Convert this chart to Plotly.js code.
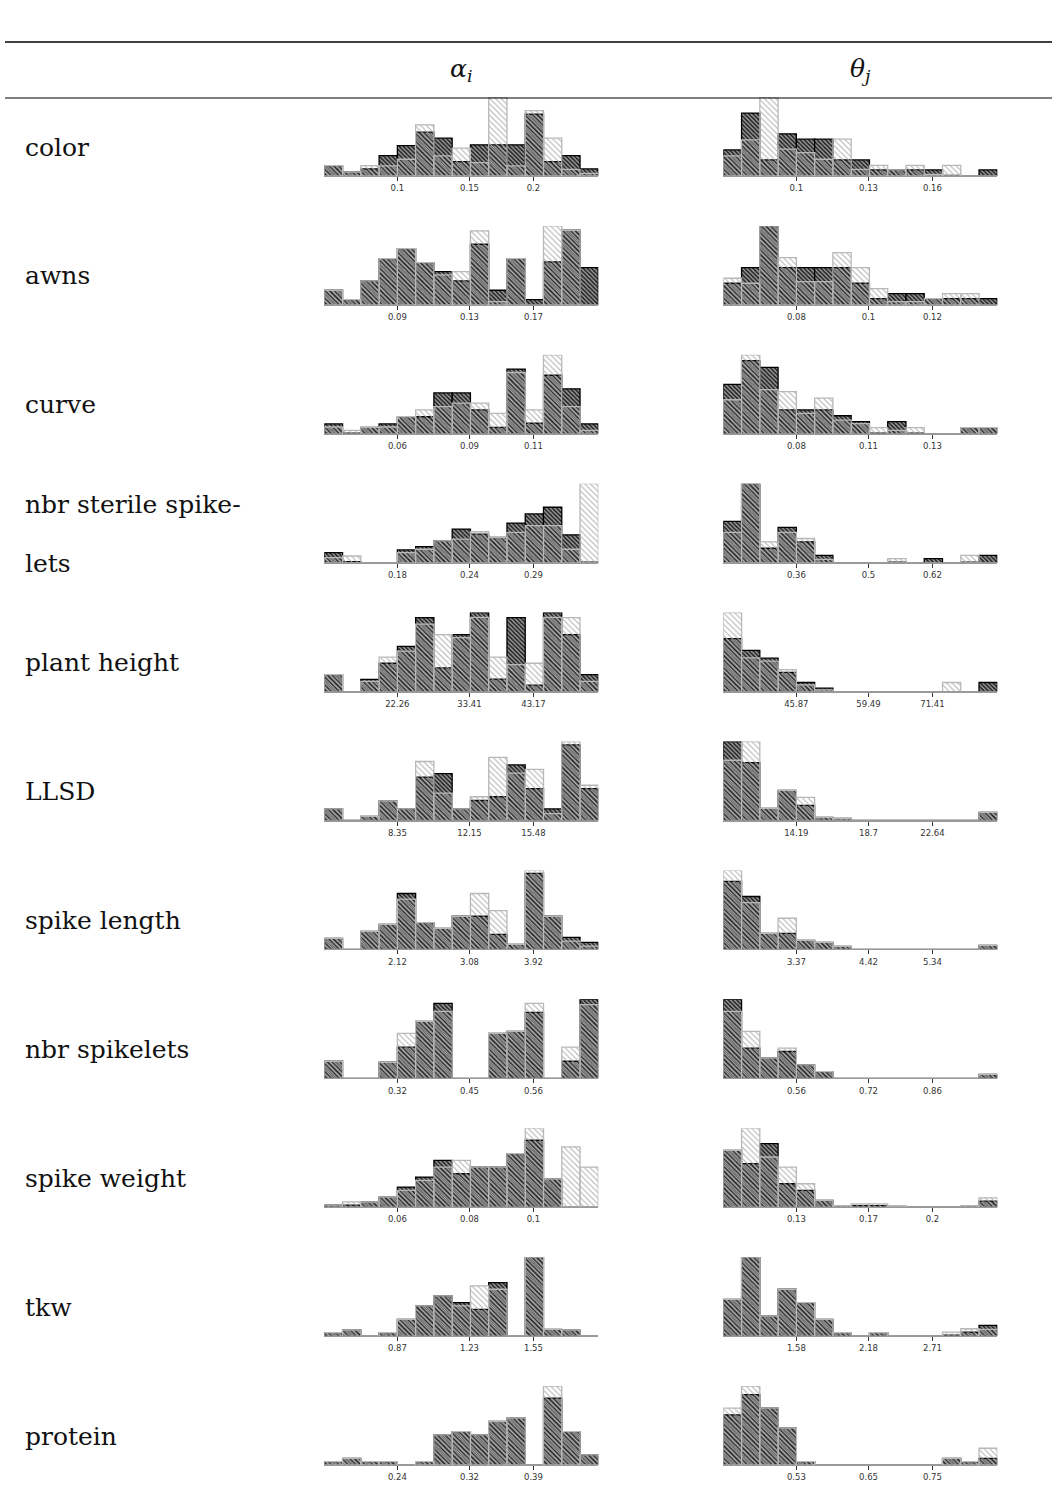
<!DOCTYPE html>
<html>
<head>
<meta charset="utf-8">
<script src="https://cdn.plot.ly/plotly-3.0.1.min.js"></script>
<style>html,body{margin:0;padding:0;background:#fff;}#chart{width:1057px;height:1493px;}</style>
</head>
<body>
<div id="chart"></div>
<script>
// ---------- DATA ----------
const rowLabels = ["color","awns","curve","nbr sterile spike-|lets","plant height","LLSD","spike length","nbr spikelets","spike weight","tkw","protein"];
const headerLabels = ["<i>α</i><sub><i>i</i></sub>", "<i>θ</i><sub><i>j</i></sub>"];

// tick labels (alpha column, theta column)
const color_alpha_ticks  = ["0.1","0.15","0.2"];
const color_theta_ticks  = ["0.1","0.13","0.16"];
const awns_alpha_ticks   = ["0.09","0.13","0.17"];
const awns_theta_ticks   = ["0.08","0.1","0.12"];
const curve_alpha_ticks  = ["0.06","0.09","0.11"];
const curve_theta_ticks  = ["0.08","0.11","0.13"];
const sterile_alpha_ticks= ["0.18","0.24","0.29"];
const sterile_theta_ticks= ["0.36","0.5","0.62"];
const height_alpha_ticks = ["22.26","33.41","43.17"];
const height_theta_ticks = ["45.87","59.49","71.41"];
const llsd_alpha_ticks   = ["8.35","12.15","15.48"];
const llsd_theta_ticks   = ["14.19","18.7","22.64"];
const length_alpha_ticks = ["2.12","3.08","3.92"];
const length_theta_ticks = ["3.37","4.42","5.34"];
const spklt_alpha_ticks  = ["0.32","0.45","0.56"];
const spklt_theta_ticks  = ["0.56","0.72","0.86"];
const weight_alpha_ticks = ["0.06","0.08","0.1"];
const weight_theta_ticks = ["0.13","0.17","0.2"];
const tkw_alpha_ticks    = ["0.87","1.23","1.55"];
const tkw_theta_ticks    = ["1.58","2.18","2.71"];
const protein_alpha_ticks= ["0.24","0.32","0.39"];
const protein_theta_ticks= ["0.53","0.65","0.75"];

// histogram heights, 15 bins each (dark series, light series)
const color_alpha_dark   = [3.1,1.2,2.1,6.1,9.1,13.1,11.3,4.3,9.3,9.3,9.3,18.5,4.3,6.1,2.1];
const color_alpha_light  = [3.1,1.2,3.1,3.0,5.0,15.3,6.0,8.3,4.0,23.6,3.0,19.5,11.3,2.0,0.8];
const color_theta_dark   = [7.8,18.8,4.8,12.6,11.0,11.0,4.8,4.8,1.8,1.8,1.8,1.8,0.2,0,1.8];
const color_theta_light  = [6.0,10.8,23.6,8.0,7.0,5.0,11.0,2.0,3.2,1.8,3.2,0.5,3.2,0,0];
const awns_alpha_dark    = [4.4,1.6,7.2,13.9,16.9,12.7,10.0,7.2,18.2,4.4,13.9,1.6,12.9,22.4,11.2];
const awns_alpha_light   = [4.4,1.6,7.2,13.9,16.9,12.7,9.0,10.0,22.2,1.0,13.9,0,23.7,22.4,0];
const awns_theta_dark    = [6.5,11.2,23.7,11.2,11.2,11.2,11.2,6.5,1.9,3.4,3.4,1.9,1.9,1.9,1.9];
const awns_theta_light   = [8.0,6.5,23.7,14.2,7.0,7.0,15.7,11.2,4.9,1.0,1.0,1.9,3.4,3.4,0];
const curve_alpha_dark   = [2.9,0.2,1.9,2.9,5.0,5.0,12.0,12.0,7.0,1.9,19.0,3.1,17.2,13.2,2.9];
const curve_alpha_light  = [2.0,1.0,1.9,2.0,5.0,7.0,8.0,9.0,9.0,6.0,18.0,7.0,23.2,8.0,1.0];
const curve_theta_dark   = [14.5,21.5,19.5,7.0,7.0,7.0,5.3,3.6,0.2,3.6,0.2,0,0,1.8,1.8];
const curve_theta_light  = [10.0,23.2,13.0,12.4,6.0,10.5,4.0,3.0,1.8,1.0,1.8,0,0,1.8,1.8];
const sterile_alpha_dark = [3.0,0.3,0,0,3.8,4.8,6.5,10.0,8.5,7.5,11.8,14.5,16.5,8.3,0.2];
const sterile_alpha_light= [1.5,2.0,0,0,3.0,4.0,6.5,7.0,9.2,7.5,9.0,11.0,11.0,4.0,23.5];
const sterile_theta_dark = [12.3,23.5,4.3,10.5,6.2,2.2,0,0,0,0.2,0,1.2,0,0.2,2.2];
const sterile_theta_light= [9.0,23.5,6.2,9.0,7.2,1.0,0,0,0,1.2,0,0,0,2.2,0];
const height_alpha_dark  = [5.0,0,3.6,8.4,13.4,21.9,7.0,16.9,23.4,3.7,21.9,1.9,23.4,16.9,5.0];
const height_alpha_light = [5.0,0,3.0,10.2,12.0,20.0,16.9,16.0,22.0,10.2,8.0,8.4,22.0,21.9,3.0];
const height_theta_dark  = [15.7,12.2,9.9,5.7,2.7,1.0,0,0,0,0,0,0,0,0,2.7];
const height_theta_light = [23.4,10.0,9.0,6.5,2.0,0.5,0,0,0,0,0,0,2.7,0,0];
const llsd_alpha_dark    = [3.4,0,1.2,5.7,3.4,12.8,13.8,3.4,5.9,7.0,16.4,9.4,3.4,22.3,9.4];
const llsd_alpha_light   = [3.4,0,1.2,5.7,3.4,17.4,8.1,3.4,7.0,18.6,14.0,15.1,2.0,23.3,10.4];
const llsd_theta_dark    = [23.6,17.3,3.6,9.0,4.5,0.9,0.6,0,0,0,0,0,0,0,2.4];
const llsd_theta_light   = [18.0,23.6,3.6,9.0,6.9,0.9,0.6,0,0,0,0,0,0,0,2.4];
const length_alpha_dark  = [3.3,0,5.4,7.5,16.7,8.0,6.3,9.9,9.9,4.5,1.5,22.7,9.9,3.6,2.1];
const length_alpha_light = [3.3,0,5.4,7.5,15.0,8.0,6.3,9.9,16.7,11.6,1.5,23.6,9.9,2.5,1.0];
const length_theta_dark  = [20.3,15.8,4.8,4.8,2.7,2.1,0.9,0,0,0,0,0,0,0,1.2];
const length_theta_light = [23.6,14.0,4.8,9.3,2.7,2.1,0.9,0,0,0,0,0,0,0,1.2];
const spklt_alpha_dark   = [5.1,0,0,4.8,9.3,17.0,22.4,0,0,13.4,14.0,19.7,0,5.1,23.6];
const spklt_alpha_light  = [5.1,0,0,4.8,13.4,17.0,20.0,0,0,13.4,14.0,22.4,0,9.3,22.0];
const spklt_theta_dark   = [23.6,9.0,6.0,8.0,4.0,2.0,0,0,0,0,0,0,0,0,1.2];
const spklt_theta_light  = [20.0,14.0,6.0,9.0,4.0,2.0,0,0,0,0,0,0,0,0,1.2];
const weight_alpha_dark  = [0.6,0.6,1.5,3.0,6.0,9.0,14.0,10.0,12.0,12.0,16.0,20.0,8.4,0,0];
const weight_alpha_light = [0.6,1.6,1.5,3.0,5.0,8.0,12.0,14.0,12.0,12.0,16.0,23.6,8.4,18.0,12.0];
const weight_theta_dark  = [17.0,13.0,19.0,7.0,5.0,2.0,0.5,0.5,0.5,0,0,0,0,0.5,1.8];
const weight_theta_light = [17.0,23.6,15.0,12.0,7.0,2.0,0.5,1.0,1.0,0.5,0,0,0,0.5,2.8];
const tkw_alpha_dark     = [1.0,1.8,0,1.0,5.0,9.0,12.0,10.0,8.0,16.0,0,23.6,2.0,1.8,0];
const tkw_alpha_light    = [1.0,1.8,0,1.0,5.0,9.0,12.0,9.0,15.0,14.0,0,23.6,2.0,1.8,0];
const tkw_theta_dark     = [11.0,23.6,6.0,14.0,10.0,5.0,1.0,0,1.0,0,0,0,0.3,1.2,3.2];
const tkw_theta_light    = [11.0,23.6,6.0,14.0,10.0,5.0,1.0,0,1.0,0,0,0,1.2,2.2,2.0];
const protein_alpha_dark = [1.0,2.0,1.0,1.0,0,1.0,9.0,10.0,9.0,13.0,14.0,0,20.0,10.0,3.0];
const protein_alpha_light= [1.0,2.0,1.0,1.0,0,1.0,9.0,10.0,9.0,13.0,14.0,0,23.6,10.0,3.0];
const protein_theta_dark = [15.0,21.0,17.0,11.0,1.0,0,0,0,0,0,0,0,2.0,1.0,2.0];
const protein_theta_light= [17.0,23.6,17.0,11.0,1.0,0,0,0,0,0,0,0,2.0,1.0,5.0];

const binCenters = [0.5,1.5,2.5,3.5,4.5,5.5,6.5,7.5,8.5,9.5,10.5,11.5,12.5,13.5,14.5];
const tickPositions = [4.0, 7.95, 11.45];

const hists = [
  [color_alpha_dark, color_alpha_light, color_alpha_ticks, color_theta_dark, color_theta_light, color_theta_ticks],
  [awns_alpha_dark, awns_alpha_light, awns_alpha_ticks, awns_theta_dark, awns_theta_light, awns_theta_ticks],
  [curve_alpha_dark, curve_alpha_light, curve_alpha_ticks, curve_theta_dark, curve_theta_light, curve_theta_ticks],
  [sterile_alpha_dark, sterile_alpha_light, sterile_alpha_ticks, sterile_theta_dark, sterile_theta_light, sterile_theta_ticks],
  [height_alpha_dark, height_alpha_light, height_alpha_ticks, height_theta_dark, height_theta_light, height_theta_ticks],
  [llsd_alpha_dark, llsd_alpha_light, llsd_alpha_ticks, llsd_theta_dark, llsd_theta_light, llsd_theta_ticks],
  [length_alpha_dark, length_alpha_light, length_alpha_ticks, length_theta_dark, length_theta_light, length_theta_ticks],
  [spklt_alpha_dark, spklt_alpha_light, spklt_alpha_ticks, spklt_theta_dark, spklt_theta_light, spklt_theta_ticks],
  [weight_alpha_dark, weight_alpha_light, weight_alpha_ticks, weight_theta_dark, weight_theta_light, weight_theta_ticks],
  [tkw_alpha_dark, tkw_alpha_light, tkw_alpha_ticks, tkw_theta_dark, tkw_theta_light, tkw_theta_ticks],
  [protein_alpha_dark, protein_alpha_light, protein_alpha_ticks, protein_theta_dark, protein_theta_light, protein_theta_ticks]
];

// ---------- LAYOUT ----------
const PW = 1057, PH = 1493;
const cols = [[324.3, 598.3], [723.3, 997.3]];
const base0 = 176, pitch = 128.9, barH = 79;
const px = v => v / PW;
const py = v => 1 - v / PH;

const data = [];
const layout = {
  width: PW, height: PH,
  margin: {l: 0, r: 0, t: 0, b: 0},
  paper_bgcolor: "#fff", plot_bgcolor: "rgba(0,0,0,0)",
  showlegend: false,
  barmode: "overlay",
  annotations: [],
  shapes: [
    {type: "line", xref: "paper", yref: "paper", x0: px(5), x1: px(1052), y0: py(42), y1: py(42), line: {color: "#000", width: 1.5}},
    {type: "line", xref: "paper", yref: "paper", x0: px(5), x1: px(1052), y0: py(98), y1: py(98), line: {color: "#000", width: 1}}
  ]
};

const labelFont = {family: "DejaVu Serif, serif", size: 25, color: "#111"};

// headers
[0, 1].forEach(c => {
  layout.annotations.push({
    xref: "paper", yref: "paper", x: px((cols[c][0] + cols[c][1]) / 2), y: py(70),
    text: headerLabels[c], showarrow: false, xanchor: "center", yanchor: "middle",
    font: {family: "DejaVu Serif, serif", size: 25, color: "#111"}
  });
});

let n = 0;
hists.forEach((h, r) => {
  const base = base0 + pitch * r;
  // row label
  const lbl = rowLabels[r].split("|");
  if (lbl.length === 1) {
    layout.annotations.push({xref: "paper", yref: "paper", x: px(23), y: py(base - 29), text: lbl[0],
      showarrow: false, xanchor: "left", yanchor: "middle", font: labelFont});
  } else {
    layout.annotations.push({xref: "paper", yref: "paper", x: px(23), y: py(base - 58), text: lbl[0],
      showarrow: false, xanchor: "left", yanchor: "middle", font: labelFont});
    layout.annotations.push({xref: "paper", yref: "paper", x: px(23), y: py(base + 1), text: lbl[1],
      showarrow: false, xanchor: "left", yanchor: "middle", font: labelFont});
  }
  [0, 1].forEach(c => {
    n += 1;
    const dark = h[c * 3], light = h[c * 3 + 1], ticks = h[c * 3 + 2];
    const xa = "x" + n, ya = "y" + n;
    const xk = "xaxis" + (n === 1 ? "" : n), yk = "yaxis" + (n === 1 ? "" : n);
    const ymax = Math.max(...dark, ...light);
    data.push({
      type: "bar", x: binCenters, y: dark, width: 1, xaxis: xa, yaxis: ya, hoverinfo: "skip",
      marker: {color: "#9a9a9a", line: {color: "#000", width: 1.3},
        pattern: {shape: "\\", fgcolor: "#1e1e1e", bgcolor: "#9a9a9a", size: 3, solidity: 0.5, fillmode: "replace"}}
    });
    data.push({
      type: "bar", x: binCenters, y: light, width: 1, xaxis: xa, yaxis: ya, hoverinfo: "skip",
      marker: {color: "rgba(255,255,255,0)", line: {color: "#b8b8b8", width: 1.3},
        pattern: {shape: "\\", fgcolor: "#b0b0b0", bgcolor: "rgba(255,255,255,0)", size: 4, solidity: 0.25, fillmode: "replace"}}
    });
    layout[xk] = {
      domain: [px(cols[c][0]), px(cols[c][1])], range: [0, 15], anchor: ya,
      showgrid: false, zeroline: false, showline: true, linecolor: "#999", linewidth: 1,
      tickmode: "array", tickvals: tickPositions, ticktext: ticks,
      ticks: "outside", ticklen: 4, tickwidth: 1, tickcolor: "#333",
      tickfont: {family: "DejaVu Sans, sans-serif", size: 8.5, color: "#333"},
      fixedrange: true
    };
    layout[yk] = {
      domain: [py(base), py(base - barH)], range: [0, ymax], anchor: xa,
      visible: false, showgrid: false, zeroline: false, fixedrange: true
    };
  });
});

Plotly.newPlot("chart", data, layout, {staticPlot: true});
</script>
</body>
</html>
